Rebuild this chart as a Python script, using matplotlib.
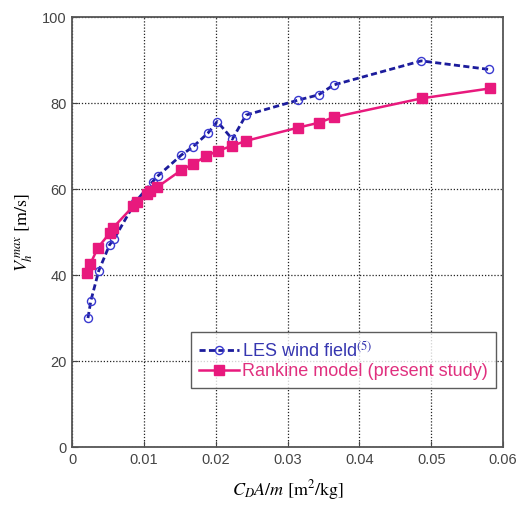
import matplotlib
matplotlib.use("Agg")
import matplotlib.pyplot as plt

les_x = [0.0022, 0.0026, 0.0037, 0.0052, 0.0058, 0.0088, 0.0112, 0.0119, 0.0152, 0.0168,
         0.0189, 0.0202, 0.0223, 0.0242, 0.0315, 0.0343, 0.0364, 0.0486, 0.0581]
les_y = [30.0, 34.0, 41.0, 47.0, 48.3, 57.0, 61.7, 63.0, 67.9, 69.8,
         73.0, 75.7, 71.6, 77.2, 80.7, 81.9, 84.2, 89.8, 87.8]

rk_x = [0.0020, 0.0025, 0.0036, 0.0052, 0.0057, 0.0085, 0.0090, 0.0104, 0.0108, 0.0118,
        0.0152, 0.0168, 0.0187, 0.0203, 0.0222, 0.0242, 0.0315, 0.0343, 0.0364, 0.0487, 0.0582]
rk_y = [40.5, 42.5, 46.4, 49.7, 51.0, 56.0, 57.0, 58.8, 59.6, 60.4,
        64.4, 65.8, 67.7, 68.9, 70.0, 71.2, 74.3, 75.4, 76.7, 81.1, 83.4]

xticks = [0, 0.01, 0.02, 0.03, 0.04, 0.05, 0.06]
xtick_labels = ["0", "0.01", "0.02", "0.03", "0.04", "0.05", "0.06"]
yticks = [0, 20, 40, 60, 80, 100]

plt.rcParams['mathtext.fontset'] = 'stix'
plt.rcParams['font.family'] = ['Liberation Sans', 'DejaVu Sans']

fig = plt.figure(figsize=(5.23, 5.08), dpi=100)
ax = fig.add_axes([0.138, 0.12, 0.824, 0.8465])

blue_line = '#1c1c9c'
blue_mk = '#3a3ad0'
pink = '#e8197d'

ax.plot(les_x, les_y, linestyle=(0, (2.2, 1.2)), color=blue_line, lw=2.0,
        marker='o', markersize=5.8, markerfacecolor='none', markeredgecolor=blue_mk,
        markeredgewidth=1.0, label='LES wind field$^{(5)}$', zorder=3)
ax.plot(rk_x, rk_y, linestyle='-', color=pink, lw=1.8,
        marker='s', markersize=6.8, markerfacecolor=pink, markeredgecolor=pink,
        label='Rankine model (present study)', zorder=4)

ax.set_xlim(0, 0.06)
ax.set_ylim(0, 100)
ax.set_xticks(xticks)
ax.set_xticklabels(xtick_labels)
ax.set_yticks(yticks)
ax.grid(True, linestyle=(0, (1, 1.5)), color='#222222', lw=0.9)
ax.tick_params(direction='in', length=4, labelsize=10.5, colors='#444444', pad=4)
for s in ax.spines.values():
    s.set_color('#555555')
    s.set_linewidth(1.3)

ax.set_xlabel(r'$C_D A/m$ [m$^2$/kg]', fontsize=13, family='STIXGeneral', labelpad=8)
ax.set_ylabel(r'$V_h^{\,max}$ [m/s]', fontsize=13, family='STIXGeneral', labelpad=5)

leg = ax.legend(loc='lower right', bbox_to_anchor=(0.984, 0.137), fontsize=13,
                frameon=True, fancybox=False, edgecolor='#333333', handlelength=2.2,
                handletextpad=0.2, borderpad=0.45, labelspacing=0.15, borderaxespad=0)
leg.get_frame().set_linewidth(1.0)
leg.get_texts()[0].set_color('#3636b0')
leg.get_texts()[1].set_color('#e0307f')

fig.savefig('out.png', dpi=100)
